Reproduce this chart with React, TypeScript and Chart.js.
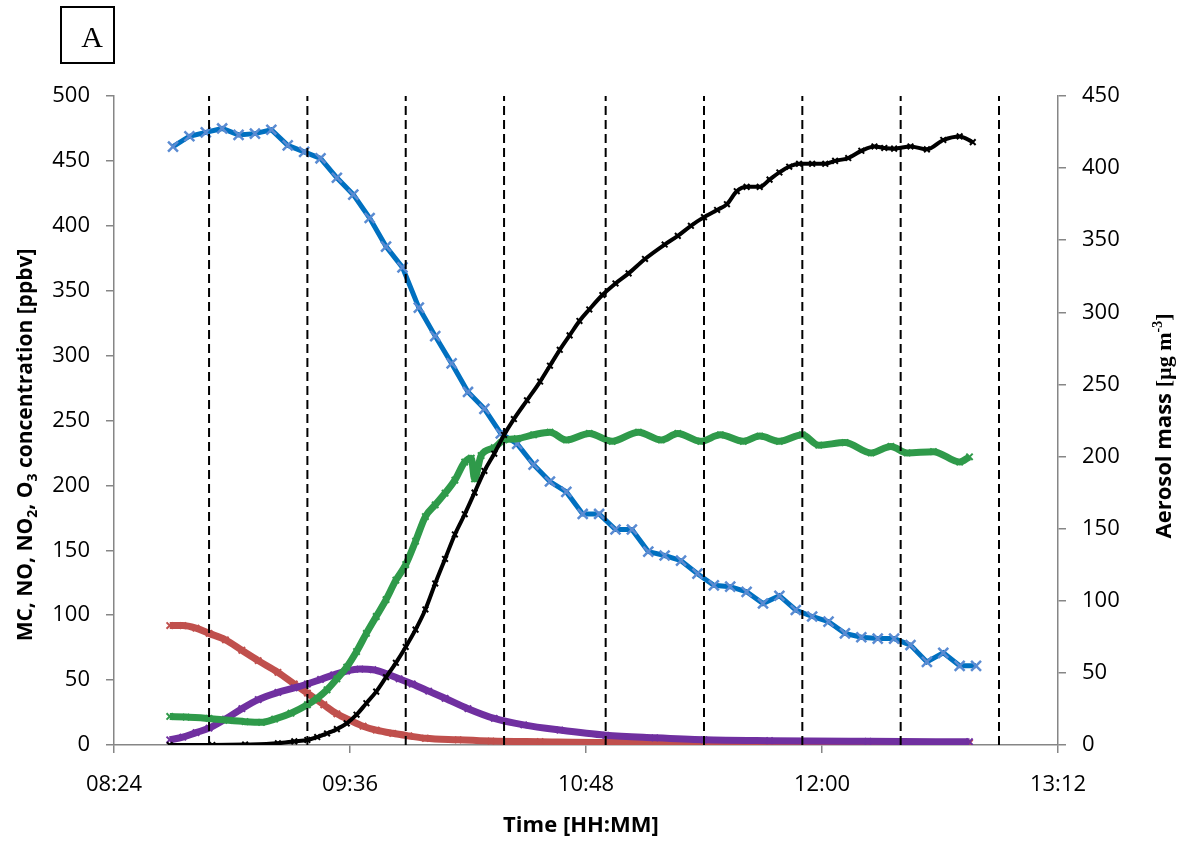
import React, { useEffect, useRef } from "react";
import { Chart, registerables } from "chart.js";

Chart.register(...registerables);

// ---- axes ----
const X_MIN = "08:24";
const X_MAX = "13:12";
const X_STEP = 72; // minutes between x tick labels
const LEFT_MAX = 500;
const LEFT_STEP = 50;
const RIGHT_MAX = 450;
const RIGHT_STEP = 50;

// ---- experiment markers (dashed vertical lines) ----
const markerTimes = ["08:53", "09:23", "09:53", "10:23", "10:54", "11:24", "11:54", "12:24", "12:54"];

// ---- MC (blue) ----
const mcTimes = [
  "08:42", "08:47", "08:52", "08:57", "09:02", "09:07", "09:12", "09:17", "09:22", "09:27",
  "09:32", "09:37", "09:42", "09:47", "09:52", "09:57", "10:02", "10:07", "10:12", "10:17",
  "10:22", "10:27", "10:32", "10:37", "10:42", "10:47", "10:52", "10:57", "11:02", "11:07",
  "11:12", "11:17", "11:22", "11:27", "11:32", "11:37", "11:42", "11:47", "11:52", "11:57",
  "12:02", "12:07", "12:12", "12:17", "12:22", "12:27", "12:32", "12:37", "12:42", "12:47",
];
const mcValues = [
  461, 469, 472, 475, 470, 471, 474, 462, 457, 452,
  437, 424, 406, 384, 368, 337, 315, 294, 272, 259,
  240, 232, 216, 203, 195, 178, 178, 166, 166, 149,
  146, 142, 132, 123, 122, 118, 109, 115, 104, 99,
  95, 86, 83, 82, 82, 77, 64, 71, 61, 61,
];

// ---- NO (red) ----
const noTimes = [
  "08:41", "08:45", "08:49", "08:53", "08:58", "09:03", "09:08", "09:14", "09:19", "09:23",
  "09:28", "09:32", "09:36", "09:40", "09:44", "09:49", "09:54", "09:59", "10:09", "10:19",
  "10:34", "10:54", "11:24", "11:54", "12:24", "12:45",
];
const noValues = [
  92, 92, 90, 86, 81, 73, 65, 56, 47, 40,
  31, 24, 19, 14.5, 11.5, 9, 7, 5.2, 4, 3,
  2.5, 2, 2, 2, 1.5, 1.5,
];

// ---- NO2 (purple) ----
const no2Times = [
  "08:41", "08:45", "08:49", "08:53", "08:58", "09:03", "09:08", "09:14", "09:19", "09:23",
  "09:27", "09:31", "09:35", "09:39", "09:43", "09:47", "09:51", "09:55", "10:00", "10:05",
  "10:12", "10:20", "10:29", "10:40", "10:54", "11:09", "11:24", "11:44", "12:14", "12:45",
];
const no2Values = [
  4, 6, 9.5, 13, 20, 28, 35, 40.5, 44, 47,
  50.5, 54, 57, 58.5, 58, 55, 51, 47, 41.5, 36,
  28, 20.5, 15.5, 11.5, 7.5, 5.5, 4, 3.3, 2.8, 2.5,
];

// ---- O3 (green) ----
const o3Times = [
  "08:41", "08:46", "08:53", "08:59", "09:04", "09:09", "09:13", "09:18", "09:23", "09:26",
  "09:29", "09:32", "09:35", "09:38", "09:41", "09:44", "09:47", "09:50", "09:53", "09:56",
  "09:59", "10:02", "10:05", "10:08", "10:11", "10:13", "10:14", "10:16", "10:20", "10:23",
  "10:27", "10:32", "10:37", "10:42", "10:49", "10:56", "11:04", "11:11", "11:16", "11:23",
  "11:29", "11:36", "11:41", "11:47", "11:54", "11:59", "12:07", "12:15", "12:21", "12:26",
  "12:34", "12:42", "12:45",
];
const o3Values = [
  22, 21.5, 20.5, 19, 18, 17.5, 20, 24.5, 31, 36,
  42.5, 51, 60, 72, 86, 99, 112, 127, 139, 157,
  176, 185, 194, 204, 218, 221, 205, 223, 229, 235,
  236, 239, 241, 235, 240, 234, 241, 235, 240, 234,
  239, 234, 238, 234, 239, 231, 233, 225, 230, 225,
  226, 218, 222,
];

// ---- Aerosol mass (black, right axis) ----
const aerosolTimes = [
  "08:41", "08:54", "09:04", "09:14", "09:19", "09:23", "09:26", "09:29", "09:32", "09:35",
  "09:38", "09:41", "09:44", "09:47", "09:50", "09:53", "09:56", "09:59", "10:02", "10:05",
  "10:08", "10:11", "10:14", "10:17", "10:20", "10:23", "10:26", "10:30", "10:34", "10:37",
  "10:40", "10:43", "10:46", "10:49", "10:53", "10:57", "11:01", "11:06", "11:12", "11:16",
  "11:20", "11:24", "11:28", "11:31", "11:34", "11:37", "11:41", "11:44", "11:47", "11:50",
  "11:53", "11:57", "12:01", "12:04", "12:08", "12:12", "12:16", "12:19", "12:22", "12:27",
  "12:32", "12:37", "12:42", "12:46",
];
const aerosolValues = [
  0, 0, 0.3, 1.2, 2.5, 3.5, 5.5, 8, 11, 15,
  21, 29, 37, 47, 57, 68, 80, 94, 112, 129,
  146, 160, 175, 190, 202, 215, 226, 239, 252, 263,
  274, 284, 294, 302, 312, 320, 327, 337, 347, 353,
  360, 366, 371, 375, 384, 387, 387, 392, 397, 401,
  403, 403, 403, 405, 407, 412, 415, 414, 413.5, 415,
  413, 419.5, 422, 418,
];

const toMin = (t: string) => {
  const [h, m] = t.split(":").map(Number);
  return h * 60 + m;
};
const fmt = (v: number) => {
  const h = Math.floor(v / 60);
  const m = Math.round(v - h * 60);
  return `${String(h).padStart(2, "0")}:${String(m).padStart(2, "0")}`;
};
const pts = (times: string[], vals: number[]) => times.map((t, i) => ({ x: toMin(t), y: vals[i] }));

const SANS = "'Open Sans', 'DejaVu Sans', sans-serif";
const SERIF = "'Liberation Serif', 'DejaVu Serif', serif";
const AXIS_GRAY = "#868686";

type Run = { text: string; font: string; dy: number };

function drawRuns(ctx: CanvasRenderingContext2D, runs: Run[], cx: number, baseline: number) {
  let total = 0;
  for (const r of runs) {
    ctx.font = r.font;
    total += ctx.measureText(r.text).width;
  }
  let x = cx - total / 2;
  for (const r of runs) {
    ctx.font = r.font;
    ctx.fillText(r.text, x, baseline + r.dy);
    x += ctx.measureText(r.text).width;
  }
}

const titlesPlugin = {
  id: "customTitles",
  afterDraw(chart: any) {
    const ctx: CanvasRenderingContext2D = chart.ctx;
    ctx.save();
    ctx.fillStyle = "#000";
    ctx.textAlign = "left";
    ctx.textBaseline = "alphabetic";

    // panel label box
    ctx.strokeStyle = "#000";
    ctx.lineWidth = 2;
    ctx.strokeRect(61, 7, 53, 56);
    ctx.font = `30px ${SERIF}`;
    ctx.textAlign = "center";
    ctx.fillText("A", 92, 47);
    ctx.textAlign = "left";

    const B = `bold 21px ${SANS}`;
    const Bs = `bold 14px ${SANS}`;

    // left axis title
    ctx.save();
    ctx.translate(25, 445);
    ctx.rotate(-Math.PI / 2);
    drawRuns(
      ctx,
      [
        { text: "MC, NO, NO", font: B, dy: 0 },
        { text: "2", font: Bs, dy: 5 },
        { text: ", O", font: B, dy: 0 },
        { text: "3", font: Bs, dy: 5 },
        { text: " concentration [ppbv]", font: B, dy: 0 },
      ],
      0,
      7
    );
    ctx.restore();

    // right axis title
    ctx.save();
    ctx.translate(1163, 426);
    ctx.rotate(-Math.PI / 2);
    drawRuns(
      ctx,
      [
        { text: "Aerosol mass ", font: `bold 22px ${SANS}`, dy: 0 },
        { text: "[\u00b5g m", font: `bold 22px ${SERIF}`, dy: 0 },
        { text: "-3", font: `bold 14px ${SERIF}`, dy: -9 },
        { text: "]", font: `bold 22px ${SERIF}`, dy: 0 },
      ],
      0,
      8
    );
    ctx.restore();

    // x axis title
    drawRuns(ctx, [{ text: "Time [HH:MM]", font: `bold 22px ${SANS}`, dy: 0 }], 581, 832);
    ctx.restore();
  },
};

export default function App() {
  const ref = useRef<HTMLCanvasElement | null>(null);

  useEffect(() => {
    if (!ref.current) return;

    const dashed = markerTimes.map((t) => ({
      label: "marker " + t,
      data: [
        { x: toMin(t), y: 0 },
        { x: toMin(t), y: LEFT_MAX },
      ],
      borderColor: "#000",
      borderWidth: 2,
      borderDash: [9, 5],
      pointRadius: 0,
      yAxisID: "y",
      tension: 0,
    }));

    const dense = (
      label: string,
      data: any[],
      color: string,
      width: number,
      axis: string,
      r: number,
      pw: number
    ) => ({
      label,
      data,
      borderColor: color,
      backgroundColor: color,
      borderWidth: width,
      pointStyle: "crossRot",
      pointRadius: r,
      pointBorderWidth: pw,
      pointBorderColor: color,
      yAxisID: axis,
      cubicInterpolationMode: "monotone",
    });

    const datasets: any[] = [
      ...dashed,
      dense("Aerosol mass", pts(aerosolTimes, aerosolValues), "#000000", 4, "y1", 4, 2),
      dense("O3", pts(o3Times, o3Values), "#2F9A4A", 7, "y", 4.5, 2),
      dense("NO2", pts(no2Times, no2Values), "#7030A0", 7, "y", 4.5, 2),
      dense("NO", pts(noTimes, noValues), "#C0504D", 7, "y", 4.5, 2),
      {
        label: "MC",
        data: pts(mcTimes, mcValues),
        borderColor: "#0070C0",
        borderWidth: 5,
        pointStyle: "crossRot",
        pointRadius: 7,
        pointBorderWidth: 2.5,
        pointBorderColor: "#5A8BD2",
        pointBackgroundColor: "#5A8BD2",
        yAxisID: "y",
        tension: 0,
      },
    ];

    const tickFont = { family: SANS, size: 22 };

    const chart = new Chart(ref.current, {
      type: "line",
      data: { datasets },
      plugins: [titlesPlugin],
      options: {
        animation: false,
        responsive: false,
        devicePixelRatio: 1,
        layout: { padding: { top: 96, left: 0, right: 0, bottom: 0 } },
        plugins: { legend: { display: false }, tooltip: { enabled: false } },
        scales: {
          x: {
            type: "linear",
            min: toMin(X_MIN),
            max: toMin(X_MAX),
            afterFit: (s: any) => {
              s.height = 98;
            },
            ticks: {
              stepSize: X_STEP,
              callback: (v: any) => fmt(Number(v)),
              font: tickFont,
              color: "#000",
              padding: 19,
              maxRotation: 0,
            },
            grid: { drawOnChartArea: false, drawTicks: true, tickLength: 8, color: AXIS_GRAY, lineWidth: 1.5 },
            border: { display: true, color: AXIS_GRAY, width: 1.5 },
          },
          y: {
            type: "linear",
            position: "left",
            min: 0,
            max: LEFT_MAX,
            afterFit: (s: any) => {
              s.width = 114;
            },
            ticks: { stepSize: LEFT_STEP, font: tickFont, color: "#000", padding: 16 },
            grid: { drawOnChartArea: false, drawTicks: true, tickLength: 8, color: AXIS_GRAY, lineWidth: 1.5 },
            border: { display: true, color: AXIS_GRAY, width: 1.5 },
          },
          y1: {
            type: "linear",
            position: "right",
            min: 0,
            max: RIGHT_MAX,
            afterFit: (s: any) => {
              s.width = 126;
            },
            ticks: { stepSize: RIGHT_STEP, font: tickFont, color: "#000", padding: 16 },
            grid: { drawOnChartArea: false, drawTicks: true, tickLength: 8, color: AXIS_GRAY, lineWidth: 1.5 },
            border: { display: true, color: AXIS_GRAY, width: 1.5 },
          },
        },
      } as any,
    });

    return () => chart.destroy();
  }, []);

  return (
    <div style={{ position: "fixed", left: 0, top: 0, width: 1184, height: 843, background: "#fff" }}>
      <canvas ref={ref} width={1184} height={843} style={{ display: "block" }} />
    </div>
  );
}
